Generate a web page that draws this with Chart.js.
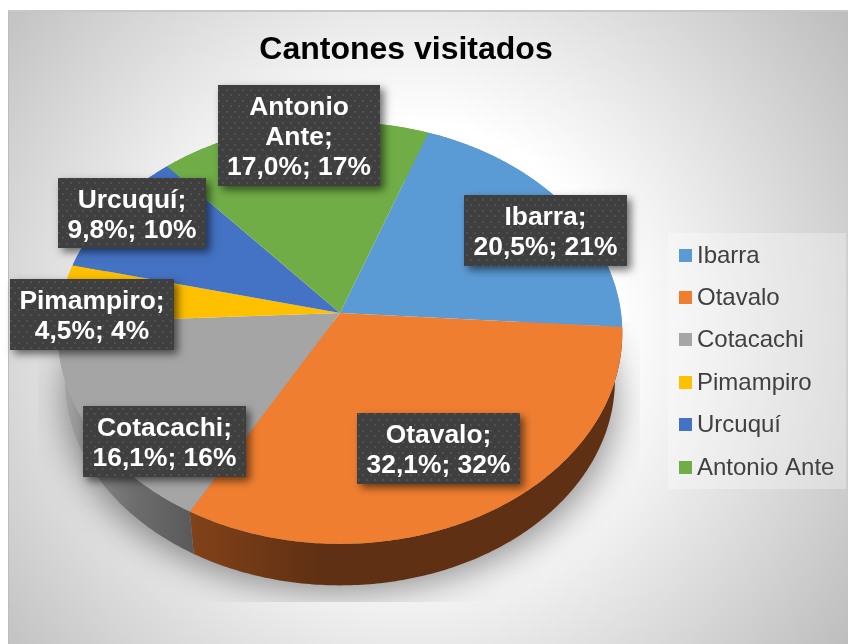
<!DOCTYPE html>
<html><head><meta charset="utf-8">
<script src="https://cdn.jsdelivr.net/npm/chart.js@4"></script>
<style>
html,body{margin:0;padding:0;background:#fff;overflow:hidden}
#panel{position:absolute;left:8px;top:10px;width:840px;height:634px;box-sizing:border-box;border-top:2px solid #c8c8c8;border-left:1px solid #bdbdbd;
background:radial-gradient(circle 540px at 402px 317px,#fff 0%,#fff 38%,#bdbdbd 100%)}
canvas{position:absolute;left:0;top:0}
</style></head><body>
<div id="panel"></div>
<canvas id="c" width="848" height="644"></canvas>
<script>
const categories = ["Ibarra","Otavalo","Cotacachi","Pimampiro","Urcuquí","Antonio Ante"];
const shares = [20.5,32.1,16.1,4.5,9.8,17.0];
const roundedShares = [21,32,16,4,10,17];
const colors = ["#5b9bd5","#f07e30","#a5a5a5","#ffc000","#4472c4","#70ad47"];
const titleText = "Cantones visitados";
const startRotation = 20;

// label layout: box rect and wrapped lines per category
const labelBoxes = [[464,195,163,71],[357,413,163,71],[83,406,163,71],[10,279,164,71],[58,178,148,70],[218,85,162,101]];
const nameLines = [["Ibarra;"],["Otavalo;"],["Cotacachi;"],["Pimampiro;"],["Urcuquí;"],["Antonio","Ante;"]];

// tilted-disc projection
const view = {cx:340, cy:313, a:281, b:209, k:0.0948, depthScale:0.974, depthShift:47.5};
function rim(theta, lower){
  const u=Math.cos(theta), v=Math.sin(theta), d=1-view.k*v;
  const s=lower?view.depthScale:1, off=lower?view.depthShift:0;
  return [view.cx+s*view.a*u/d, view.cy+off+s*view.b*v/d];
}
function tracePts(ctx,pts,first){pts.forEach((p,i)=>{(i===0&&first)?ctx.moveTo(p[0],p[1]):ctx.lineTo(p[0],p[1]);});}
function sweep(a0,a1,lower){const n=Math.max(2,Math.ceil(Math.abs(a1-a0)*80));const r=[];for(let i=0;i<=n;i++)r.push(rim(a0+(a1-a0)*i/n,lower));return r;}

function sideFill(ctx,i){
  if(i===1){const g=ctx.createLinearGradient(190,0,320,0);g.addColorStop(0,"#824219");g.addColorStop(1,"#5f3013");return g;}
  if(i===2){const g=ctx.createLinearGradient(60,0,192,0);g.addColorStop(0,"#a8a8a8");g.addColorStop(0.23,"#888888");g.addColorStop(0.55,"#6e6e6e");g.addColorStop(1,"#5a5a5a");return g;}
  return colors[i];
}
function dotPattern(ctx){
  const t=document.createElement("canvas");t.width=8;t.height=11;const c=t.getContext("2d");
  c.fillStyle="#3f3f3f";c.fillRect(0,0,8,11);
  c.fillStyle="#505050";c.fillRect(2,1,2,2);c.fillRect(6,6,2,2);
  return ctx.createPattern(t,"repeat");
}

const pie3d = {
  id:"pie3d",
  afterLayout(chart){
    const tb=chart.titleBlock; tb.left=0; tb.right=812;
    const lg=chart.legend, pad=lg.options.labels.padding;
    lg.left=684-pad; lg.right=846; lg.top=244-pad; lg.bottom=644;
  },
  beforeDraw(chart){
    const ctx=chart.ctx; ctx.save();
    ctx.fillStyle="rgba(255,255,255,0.3)"; ctx.fillRect(668,233,178,256);
    ctx.restore();
  },
  beforeDatasetsDraw(chart){
    const ctx=chart.ctx, arcs=chart.getDatasetMeta(0).data;
    // soft floor shadow
    ctx.save();
    ctx.beginPath();ctx.rect(38,322,602,280);ctx.clip();
    ctx.shadowColor="rgba(0,0,0,0.42)";ctx.shadowBlur=34;ctx.shadowOffsetX=3000;ctx.shadowOffsetY=0;
    ctx.fillStyle="#000";ctx.beginPath();ctx.ellipse(340-3000,400,276,192,0,0,Math.PI*2);ctx.fill();
    ctx.restore();
    // rim sides
    arcs.forEach((arc,i)=>{
      ctx.beginPath();
      tracePts(ctx,sweep(arc.startAngle,arc.endAngle,false),true);
      tracePts(ctx,sweep(arc.endAngle,arc.startAngle,true),false);
      ctx.closePath();ctx.fillStyle=sideFill(ctx,i);ctx.fill();
    });
    // top face
    arcs.forEach((arc,i)=>{
      ctx.beginPath();ctx.moveTo(view.cx,view.cy);
      tracePts(ctx,sweep(arc.startAngle,arc.endAngle,false),false);
      ctx.closePath();ctx.fillStyle=colors[i];ctx.fill();
    });
    return false;
  },
  afterDraw(chart){
    const ctx=chart.ctx, pat=dotPattern(ctx);
    // legend swatches at the library's legend rows
    chart.legend.legendHitBoxes.forEach((h,i)=>{
      ctx.fillStyle=colors[i];ctx.fillRect(679,Math.round(243+i*42.4+5.5),13,13);
    });
    // data labels
    categories.forEach((_,i)=>{
      const [x,y,w,h]=labelBoxes[i];
      ctx.save();
      ctx.shadowColor="rgba(0,0,0,0.55)";ctx.shadowBlur=8;ctx.shadowOffsetX=4;ctx.shadowOffsetY=4;
      ctx.fillStyle="#3f3f3f";ctx.fillRect(x,y,w,h);
      ctx.restore();
      ctx.fillStyle=pat;ctx.fillRect(x,y,w,h);
      const lines=nameLines[i].concat([shares[i].toFixed(1).replace(".",",")+"%; "+roundedShares[i]+"%"]);
      ctx.fillStyle="#fff";ctx.font='bold 26.4px "Liberation Sans"';ctx.textAlign="center";ctx.textBaseline="middle";
      const lh=30, y0=y+h/2-(lines.length-1)*lh/2+2.5;
      lines.forEach((t,j)=>ctx.fillText(t,x+w/2,y0+j*lh));
    });
  }
};

new Chart(document.getElementById("c"),{
  type:"pie",
  data:{labels:categories,datasets:[{data:shares,backgroundColor:colors,borderWidth:0}]},
  options:{
    responsive:false,animation:false,rotation:startRotation,
    events:[],
    plugins:{
      title:{display:true,text:titleText,color:"#000",padding:{top:31,bottom:10},font:{family:'"Liberation Sans"',size:32,weight:"bold"}},
      legend:{position:"right",align:"start",labels:{boxWidth:1,boxHeight:1,padding:18.4,color:"#404040",font:{family:'"Liberation Sans"',size:24}}},
      tooltip:{enabled:false}
    }
  },
  plugins:[pie3d]
});
</script>
</body></html>
